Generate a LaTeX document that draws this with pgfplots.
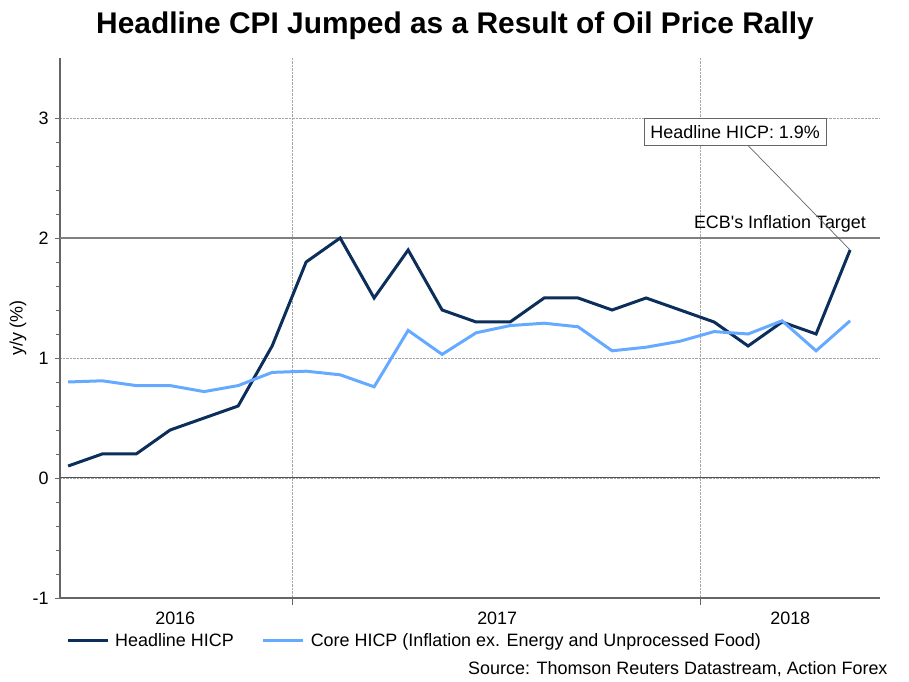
\documentclass[border=0pt]{standalone}
\usepackage{pgfplots}
\pgfplotsset{compat=1.18}
\usepackage{fontspec}
\setmainfont{Liberation Sans}

\definecolor{headline}{HTML}{0B2E5A}
\definecolor{core}{HTML}{66AAFF}
\definecolor{axisgray}{HTML}{666666}

% monthly, Jun 2016 (0) to May 2018 (23)
\pgfplotstableread{
m  head  core
0  0.1  0.80
1  0.2  0.81
2  0.2  0.77
3  0.4  0.77
4  0.5  0.72
5  0.6  0.77
6  1.1  0.88
7  1.8  0.89
8  2.0  0.86
9  1.5  0.76
10 1.9  1.23
11 1.4  1.03
12 1.3  1.21
13 1.3  1.27
14 1.5  1.29
15 1.5  1.26
16 1.4  1.06
17 1.5  1.09
18 1.4  1.14
19 1.3  1.22
20 1.1  1.20
21 1.3  1.31
22 1.2  1.06
23 1.9  1.31
}\hicp

\begin{document}
\begin{tikzpicture}
\useasboundingbox (0,0) rectangle (909bp,682bp);
\node[font=\fontsize{30}{36}\selectfont\bfseries] at (455bp,656bp)
  {Headline CPI Jumped as a Result of Oil Price Rally};
\begin{axis}[
  at={(60bp,84bp)}, anchor=south west,
  scale only axis, width=820bp, height=540bp,
  xmin=-0.24, xmax=23.88, ymin=-1, ymax=3.5,
  axis lines*=left,
  axis line style={axisgray, line width=1.2bp},
  tick align=outside,
  font=\fontsize{18}{21}\selectfont,
  /pgf/number format/assume math mode=true,
  ytick={-1,0,1,2,3}, minor y tick num=4,
  ytick pos=left, xtick pos=bottom,
  major tick length=5bp, minor tick length=4bp,
  every tick/.style={axisgray, line width=0.8bp},
  xtick={3.15,12.62,21.24}, xticklabels={2016,2017,2018},
  xtick style={draw=none},
  minor xtick={0.6,3.6,9.6,12.6,15.6,21.6},
  extra x ticks={6.6,18.6},
  extra x tick labels={},
  extra x tick style={grid=major, xtick style={draw=axisgray, line width=0.8bp}, major tick length=7bp},
  xticklabel style={yshift=-5bp},
  yticklabel style={xshift=-3bp},
  ymajorgrids,
  grid style={densely dotted, gray!70, line width=0.8bp},
  ylabel={y/y (\%)},
  ylabel style={at={(axis description cs:-0.0512,0.5)}, anchor=center},
  legend columns=-1,
  legend style={draw=none, fill=none, inner sep=0pt,
    at={(axis description cs:0.0073,-0.0796)}, anchor=west,
    font=\fontsize{18}{21}\selectfont,
    /tikz/every even column/.append style={column sep=26bp}},
  legend image code/.code={\draw[#1] (0bp,0bp) -- (40bp,0bp); \path (44bp,0bp);},
]
\addplot[gray, line width=2bp, forget plot] coordinates {(-0.24,2) (23.88,2)};
\addplot[axisgray!80!black, line width=1bp, forget plot] coordinates {(-0.24,0) (23.88,0)};
\addplot[headline, line width=3bp] table[x=m, y=head] {\hicp};
\addplot[core, line width=3bp] table[x=m, y=core] {\hicp};
\legend{Headline HICP, Core HICP (Inflation ex. Energy and Unprocessed Food)}
\node[anchor=south east, inner sep=1bp] at (axis cs:23.5,2.04) {ECB\textquotesingle s Inflation Target};
\draw[gray!80!black, line width=0.7bp] (axis cs:20.0,2.77) -- (axis cs:23,1.9);
\node[draw=gray!80!black, fill=white, line width=0.8bp, inner xsep=6bp, inner ysep=4bp, minimum height=27bp]
  at (axis cs:19.62,2.88) {Headline HICP: 1.9\%};
\end{axis}
\node[anchor=east, font=\fontsize{18}{21}\selectfont] at (891bp,13bp)
  {Source: Thomson Reuters Datastream, Action Forex};
\end{tikzpicture}
\end{document}
